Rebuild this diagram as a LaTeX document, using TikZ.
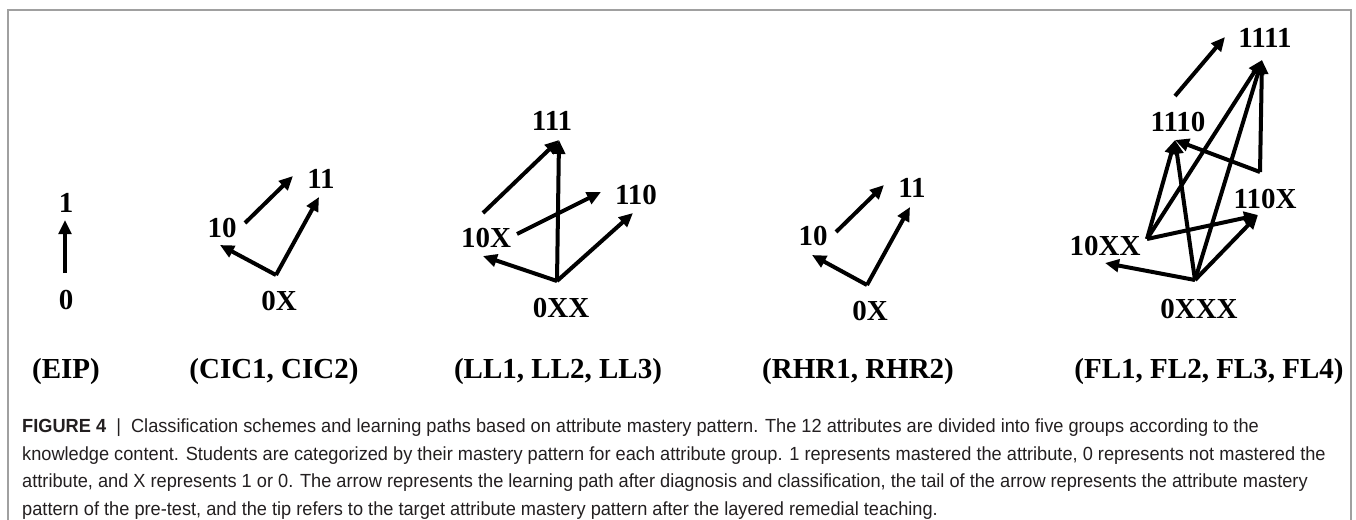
\documentclass[tikz,border=0pt]{standalone}
\usepackage{fontspec}
\setmainfont{Liberation Serif}
\newfontfamily\capfont{Liberation Sans}
\usetikzlibrary{arrows.meta}
\definecolor{framegray}{RGB}{160,160,160}
\definecolor{captext}{RGB}{35,31,32}
\newcommand{\capsq}[1]{\scalebox{0.958}[1]{#1}}
\begin{document}
\begin{tikzpicture}[x=1pt,y=-1pt,
  lbl/.style={font=\bfseries\fontsize{29}{29}\selectfont, anchor=base, inner sep=0pt},
  grp/.style={font=\bfseries\fontsize{29}{29}\selectfont, anchor=base, inner sep=0pt},
  arr/.style={line width=4pt, -{Triangle[length=14pt,width=12.5pt]}},
  capline/.style={font=\capfont\fontsize{19}{19}\selectfont, anchor=base west, inner sep=0pt, text=captext}
]
\useasboundingbox (0,0) rectangle (1356,519);
\draw[framegray, line width=2pt] (8,530) -- (8,10) -- (1351,10) -- (1351,530);

% ---------- EIP ----------
\node[lbl] (e1) at (66,212) {1};
\node[lbl] (e0) at (66,309) {0};
\coordinate (e0t) at (65,273);
\coordinate (e1h) at (65,220);
\draw[arr] (e0t) -- (e1h);
\node[grp] (gEIP) at (66,378) {(EIP)};

% ---------- CIC ----------
\node[lbl] (c10) at (222,237) {10};
\node[lbl] (c11) at (321,188) {11};
\node[lbl] (c0X) at (279,310) {0X};
\coordinate (c10t) at (245,223);
\coordinate (c11h1) at (293,176);
\coordinate (c0Xt) at (276,275);
\coordinate (c10h) at (220,245);
\coordinate (c11h2) at (319,197);
\draw[arr] (c10t) -- (c11h1);
\draw[arr] (c0Xt) -- (c10h);
\draw[arr] (c0Xt) -- (c11h2);
\node[grp] (gCIC) at (274,378) {(CIC1, CIC2)};

% ---------- LL ----------
\node[lbl] (l111) at (552,130) {111};
\node[lbl] (l110) at (636,204) {110};
\node[lbl] (l10X) at (486,247) {10X};
\node[lbl] (l0XX) at (561,317) {0XX};
\coordinate (l10Xt1) at (483,213);
\coordinate (l10Xt2) at (517,234);
\coordinate (l0XXt) at (557,281);
\coordinate (l111h) at (559,140);
\coordinate (l110h1) at (601,192);
\coordinate (l110h2) at (633,213);
\coordinate (l10Xh) at (483,256);
\draw[arr] (l10Xt1) -- (l111h);
\draw[arr] (l0XXt) -- (l111h);
\draw[arr] (l10Xt2) -- (l110h1);
\draw[arr] (l0XXt) -- (l10Xh);
\draw[arr] (l0XXt) -- (l110h2);
\node[grp] (gLL) at (558,378) {(LL1, LL2, LL3)};

% ---------- RHR ----------
\node[lbl] (r10) at (813,245) {10};
\node[lbl] (r11) at (912,197) {11};
\node[lbl] (r0X) at (870,320) {0X};
\coordinate (r10t) at (836,232);
\coordinate (r11h1) at (884,185);
\coordinate (r0Xt) at (867,285);
\coordinate (r10h) at (812,255);
\coordinate (r11h2) at (910,207);
\draw[arr] (r10t) -- (r11h1);
\draw[arr] (r0Xt) -- (r10h);
\draw[arr] (r0Xt) -- (r11h2);
\node[grp] (gRHR) at (858,378) {(RHR1, RHR2)};

% ---------- FL ----------
\node[lbl] (f1111) at (1265,48) {1111};
\node[lbl] (f1110) at (1178,131) {1110};
\node[lbl] (f110X) at (1265,208) {110X};
\node[lbl] (f10XX) at (1105,255) {10XX};
\node[lbl] (f0XXX) at (1199,318) {0XXX};
\coordinate (f1110t) at (1175,96);
\coordinate (f1111h1) at (1225,37);
\coordinate (f1111h) at (1262,60);
\coordinate (f1110h) at (1175,140);
\coordinate (f110Xt) at (1260,172);
\coordinate (f10XXt) at (1147,239);
\coordinate (f0XXXt) at (1195,280);
\coordinate (f110Xh) at (1258,215);
\coordinate (f10XXh) at (1105,263);
\draw[arr] (f1110t) -- (f1111h1);
\draw[arr] (f0XXXt) -- (f10XXh);
\draw[arr] (f0XXXt) -- (f1110h);
\draw[arr] (f0XXXt) -- (f1111h);
\draw[arr] (f0XXXt) -- (f110Xh);
\draw[arr] (f10XXt) -- (f1110h);
\draw[arr] (f10XXt) -- (f1111h);
\draw[arr] (f10XXt) -- (f110Xh);
\draw[arr] (f110Xt) -- (f1110h);
\draw[arr] (f110Xt) -- (f1111h);
\node[grp] (gFL) at (1209,378) {(FL1, FL2, FL3, FL4)};

% ---------- caption ----------
\node[capline] (cap1) at (22,432) {\capsq{\textbf{FIGURE 4}\ \ |\ \ Classification schemes and learning paths based on attribute mastery pattern. The 12 attributes are divided into five groups according to the}};
\node[capline] (cap2) at (22,460) {\capsq{knowledge content. Students are categorized by their mastery pattern for each attribute group. 1 represents mastered the attribute, 0 represents not mastered the}};
\node[capline] (cap3) at (22,487.5) {\capsq{attribute, and X represents 1 or 0. The arrow represents the learning path after diagnosis and classification, the tail of the arrow represents the attribute mastery}};
\node[capline] (cap4) at (22,515) {\capsq{pattern of the pre-test, and the tip refers to the target attribute mastery pattern after the layered remedial teaching.}};
\end{tikzpicture}
\end{document}
